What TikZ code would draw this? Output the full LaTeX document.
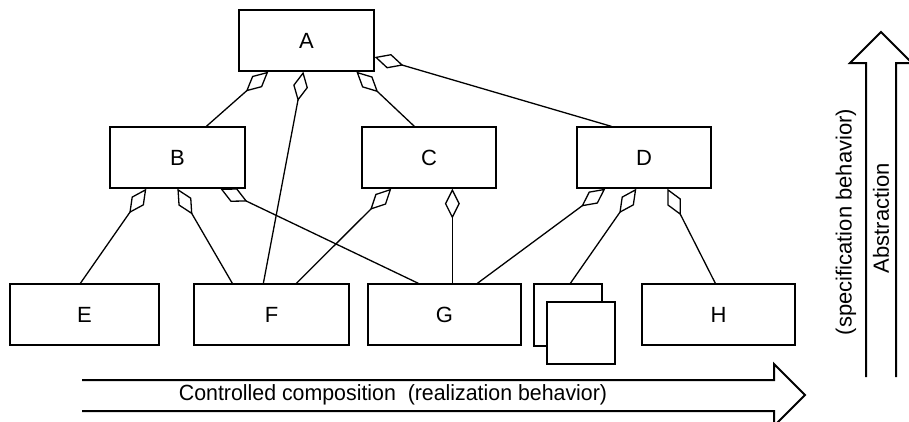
\documentclass[tikz,border=0pt]{standalone}
\usepackage{fontspec}
\setmainfont{Liberation Sans}
\usetikzlibrary{arrows.meta}
\begin{document}
\begin{tikzpicture}[x=1pt,y=-1pt,
  box/.style={draw, line width=1.3pt, minimum height=61pt, inner sep=0pt, fill=white,
    font=\fontsize{22}{26}\selectfont},
  agg/.style={line width=1.3pt, -{Diamond[open, length=30pt, width=15pt, line join=miter]}},
  bigarrow/.style={line width=2pt, line join=miter},
  lbl/.style={inner sep=0pt, font=\fontsize{22}{26}\selectfont}]
\useasboundingbox (0,0) rectangle (909,421);
% top level
\node[box, minimum width=135pt] (A) at (306.5,40.5) {A};
% middle level
\node[box, minimum width=135pt] (B) at (177.5,157.5) {B};
\node[box, minimum width=134pt] (C) at (429,157.5) {C};
\node[box, minimum width=134pt] (D) at (644,157.5) {D};
% bottom level
\node[box, minimum width=149pt] (E) at (84.5,314.5) {E};
\node[box, minimum width=155pt] (F) at (271.5,314.5) {F};
\node[box, minimum width=153pt] (G) at (444.5,314.5) {G};
\node[box, minimum width=68pt, minimum height=62pt] (S1) at (568,315) {};
\node[box, minimum width=68pt, minimum height=62pt] (S2) at (581,333) {};
\node[box, minimum width=153pt] (H) at (718.5,314.5) {H};
% aggregation connectors
\draw[agg] ([xshift=97pt]B.north west) -- ([xshift=30pt]A.south west);
\draw[agg] ([xshift=70pt]F.north west) -- ([xshift=65pt]A.south west);
\draw[agg] ([xshift=53pt]C.north west) -- ([xshift=118pt]A.south west);
\draw[agg] ([xshift=35pt]D.north west) -- ([yshift=-16.5pt]A.east);
\draw[agg] ([xshift=71pt]E.north west) -- ([xshift=37pt]B.south west);
\draw[agg] ([xshift=39pt]F.north west) -- ([xshift=68pt]B.south west);
\draw[agg] ([xshift=51pt]G.north west) -- ([xshift=111pt]B.south west);
\draw[agg] ([xshift=103pt]F.north west) -- ([xshift=30pt]C.south west);
\draw[agg] ([xshift=85pt]G.north west) -- ([xshift=91pt]C.south west);
\draw[agg] ([xshift=110pt]G.north west) -- ([xshift=29pt]D.south west);
\draw[agg] ([xshift=37pt]S1.north west) -- ([xshift=60pt]D.south west);
\draw[agg] ([xshift=74pt]H.north west) -- ([xshift=91pt]D.south west);
% big arrows
\draw[bigarrow] (82,380) -- (774,380) -- (774,364) -- (805,395) -- (774,426) -- (774,411) -- (82,411);
\draw[bigarrow] (866,377) -- (866,63) -- (850,63) -- (881,32) -- (912,63) -- (896,63) -- (896,377);
\node[lbl] (comp) at (393,395) {\scalebox{0.97}[1]{Controlled composition\ \ (realization behavior)}};
\node[lbl, rotate=90] (abs) at (881,218) {Abstraction};
\node[lbl, rotate=90] (spec) at (846,222) {(specification behavior)};
\end{tikzpicture}
\end{document}
